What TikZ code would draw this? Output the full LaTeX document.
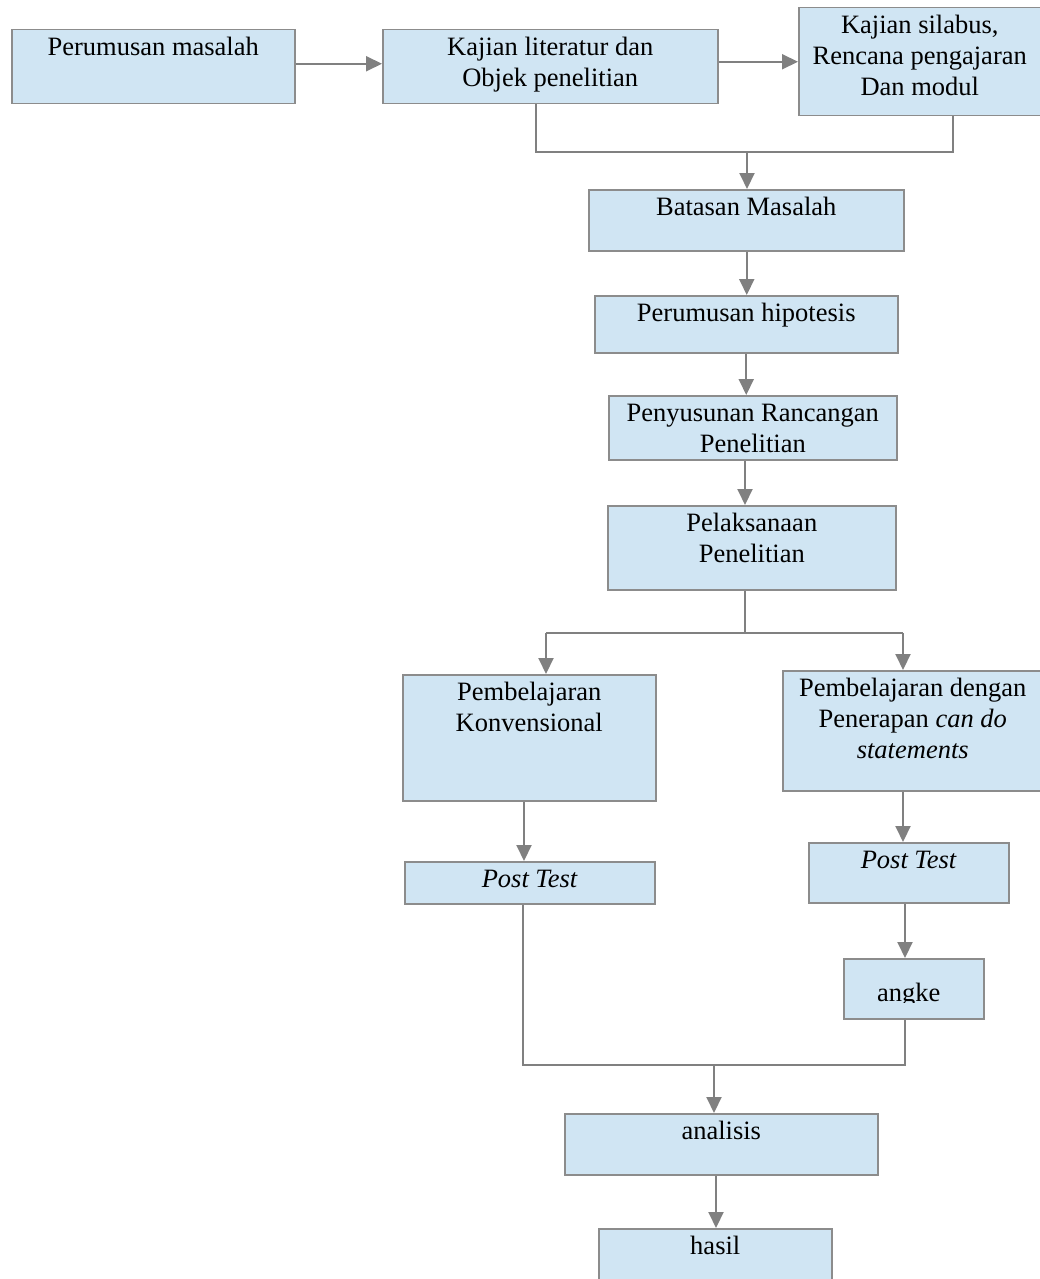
\documentclass[tikz,border=0pt]{standalone}
\usepackage{fontspec}
\setmainfont{Liberation Serif}
\usetikzlibrary{arrows.meta,calc}
\definecolor{boxfill}{RGB}{208,229,243}
\definecolor{boxdraw}{RGB}{140,140,140}
\definecolor{linegray}{RGB}{128,128,128}
\tikzset{
  box/.style={draw=boxdraw, fill=boxfill, line width=1.5pt, rectangle, inner sep=0pt, anchor=north west},
  txt/.style={inner sep=0pt, anchor=north, align=center, font=\fontsize{26.5}{31}\selectfont},
  conn/.style={draw=linegray, line width=2pt},
  arr/.style={conn, -{Triangle[length=16pt,width=15pt]}},
}
\newcommand{\bx}[5]{\node[box, minimum width=#4pt, minimum height=#5pt] (#1) at (#2,#3) {};}
\begin{document}
\begin{tikzpicture}[x=1pt,y=-1pt]
\useasboundingbox (0,0) rectangle (1039,1279);
% boxes
\bx{b1}{11}{29}{283}{74}
\bx{b2}{382}{29}{335}{74}
\bx{b3}{798}{7}{242}{108}
\bx{b4}{588}{189}{315}{61}
\bx{b5}{594}{295}{303}{57}
\bx{b6}{608}{395}{288}{64}
\bx{b7}{607}{505}{288}{84}
\bx{b8}{402}{674}{253}{126}
\bx{b9}{782}{670}{260}{120}
\bx{b10}{404}{861}{250}{42}
\bx{b11}{808}{842}{200}{60}
\bx{b12}{843}{958}{140}{60}
\bx{b13}{564}{1113}{313}{61}
\bx{b14}{598}{1228}{233}{62}
% texts
\node[txt] (t1) at ([yshift=-4.3pt]b1.north) {\strut Perumusan masalah};
\node[txt] (t2) at ([yshift=-4.3pt]b2.north) {\strut Kajian literatur dan\\Objek penelitian};
\node[txt] (t3) at ([yshift=-4.3pt]b3.north) {\strut Kajian silabus,\\Rencana pengajaran\\Dan modul};
\node[txt] (t4) at ([yshift=-4.3pt]b4.north) {\strut Batasan Masalah};
\node[txt] (t5) at ([yshift=-4.3pt]b5.north) {\strut Perumusan hipotesis};
\node[txt] (t6) at ([yshift=-4.3pt]b6.north) {\strut Penyusunan Rancangan\\Penelitian};
\node[txt] (t7) at ([yshift=-4.3pt]b7.north) {\strut Pelaksanaan\\Penelitian};
\node[txt] (t8) at ([yshift=-4.3pt]b8.north) {\strut Pembelajaran\\Konvensional};
\node[txt] (t9) at ([yshift=-4.3pt]b9.north) {\strut Pembelajaran dengan\\Penerapan \textit{can do}\\\textit{statements}};
\node[txt] (t10) at ([yshift=-4.3pt]b10.north) {\strut\textit{Post Test}};
\node[txt] (t11) at ([yshift=-4.3pt]b11.north) {\strut\textit{Post Test}};
\begin{scope}
\clip (843,958) rectangle (983,1002);
\node[txt] (t12) at ([xshift=-5pt,yshift=-21.3pt]b12.north) {\strut angke};
\end{scope}
\node[txt] (t13) at ([yshift=-4.3pt]b13.north) {\strut analisis};
\node[txt] (t14) at ([yshift=-4.3pt]b14.north) {\strut hasil};
% connectors
\draw[arr] ([yshift=3pt]b1.east) -- ([yshift=3pt]b2.west);
\draw[arr] (b2.east |- b3.west) -- (b3.west);
\coordinate (m1) at (747,152);
\draw[conn] ([xshift=-14.5pt]b2.south) |- ([xshift=33.5pt]b3.south |- m1) -- ([xshift=33.5pt]b3.south);
\draw[arr] (m1) -- (m1 |- b4.north);
\draw[arr] ([xshift=0.5pt]b4.south) -- ([xshift=0.5pt]b4.south |- b5.north);
\draw[arr] (b5.south) -- (b5.south |- b6.north);
\coordinate (s1) at (745,633);
\draw[arr] (s1 |- b6.south) -- (s1 |- b7.north);
\draw[conn] (s1 |- b7.south) -- (s1);
\coordinate (jl) at (546,633);
\coordinate (jr) at (903,633);
\draw[conn] (jl) -- (jr);
\draw[arr] (jl) -- (jl |- b8.north);
\draw[arr] (jr) -- (jr |- b9.north);
\coordinate (p1) at (524,0);
\draw[arr] (p1 |- b8.south) -- (p1 |- b10.north);
\coordinate (p2) at (903,0);
\draw[arr] (p2 |- b9.south) -- (p2 |- b11.north);
\coordinate (p3) at (905,0);
\draw[arr] (p3 |- b11.south) -- (p3 |- b12.north);
\coordinate (ml) at (523,1065);
\coordinate (mr) at (905,1065);
\coordinate (mc) at (714,1065);
\draw[conn] (ml |- b10.south) -- (ml) -- (mr) -- (mr |- b12.south);
\draw[arr] (mc) -- (mc |- b13.north);
\coordinate (p4) at (716,0);
\draw[arr] (p4 |- b13.south) -- (p4 |- b14.north);
\end{tikzpicture}
\end{document}
